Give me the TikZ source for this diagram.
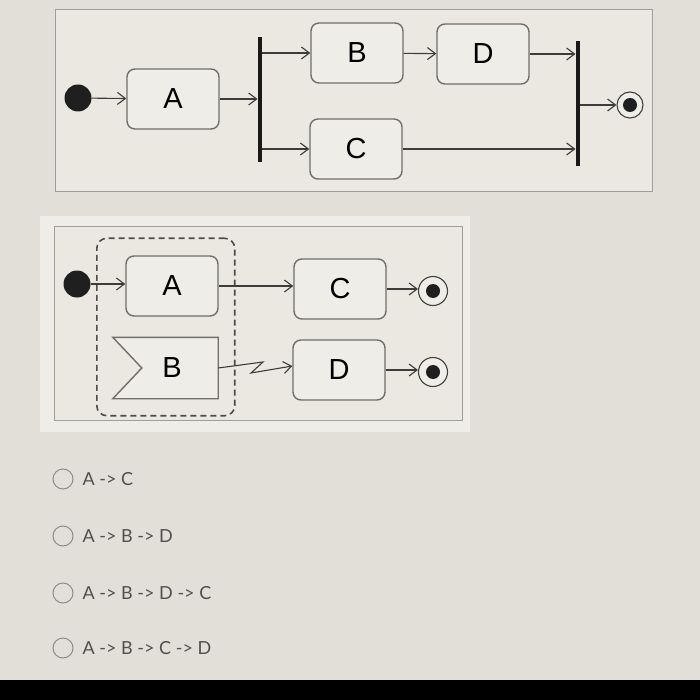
\documentclass[tikz,border=0pt]{standalone}
\usepackage{fontspec}
\setmainfont{Liberation Sans}
\newfontfamily\optfont{Lato}
\usepackage{tikz}
\usetikzlibrary{arrows.meta,positioning,calc,fit,backgrounds}
\definecolor{screenbg}{RGB}{226,223,217}
\definecolor{panelbg}{RGB}{235,232,226}
\definecolor{panelline}{RGB}{160,158,154}
\definecolor{boxbg}{RGB}{239,237,232}
\definecolor{boxline}{RGB}{112,110,106}
\definecolor{flowline}{RGB}{60,60,60}
\definecolor{opttext}{RGB}{80,80,80}

\begin{document}
\begin{tikzpicture}[x=1pt, y=-1pt,
    act/.style={rectangle, rounded corners=8pt, draw=boxline, line width=1.4pt, fill=boxbg, minimum width=92pt, minimum height=60pt, inner sep=0pt, font=\fontsize{29}{31}\selectfont},
    bar/.style={rectangle, fill=black!90, minimum width=4.5pt, minimum height=125pt, inner sep=0pt},
    initial/.style={circle, fill=black!88, minimum size=27pt, inner sep=0pt},
    final/.style={circle, draw=black!75, line width=1.1pt, fill=boxbg, minimum size=26pt, inner sep=0pt,
        path picture={\fill[black!88] (path picture bounding box.center) circle (7pt);}},
    flow/.style={draw=flowline, line width=1.1pt, -{Straight Barb[length=8pt,width=12pt]}},
    panel/.style={draw=panelline, line width=1pt, fill=panelbg},
    radio/.style={circle, draw=black!45, line width=1pt, minimum size=20pt, inner sep=0pt},
    opt/.style={anchor=west, text=opttext, font=\optfont\fontsize{18}{20}\selectfont, inner sep=0pt}
]
    \fill[screenbg] (0,0) rectangle (700,700);
    \useasboundingbox (0,0) rectangle (700,700);
    \fill[black] (0,680) rectangle (700,700);

    % first diagram: fork and join
    \draw[panel] (55,10) rectangle (652,192);
    \node[initial] (start1) at (78,98) {};
    \node[act] (a1) at (173,99) {A};
    \node[bar] (fork) at (260,100) {};
    \node[act] (b1) at (357,53) {B};
    \node[act] (d1) at (483,54) {D};
    \node[act] (c1) at (356,149) {C};
    \node[bar] (join) at (578,104) {};
    \node[final] (end1) at (630,105) {};

    \draw[flow] (start1) -- (a1);
    \draw[flow] (a1.east) -- (a1.east -| fork.west);
    \draw[flow] (fork.east |- b1) -- (b1);
    \draw[flow] (b1) -- (d1);
    \draw[flow] (fork.east |- c1) -- (c1);
    \draw[flow] (d1.east) -- (d1.east -| join.west);
    \draw[flow] (c1.east) -- (c1.east -| join.west);
    \draw[flow] (join.east |- end1) -- (end1);

    % second diagram: interruptible region
    \fill[panelbg!80!white] (40,216) rectangle (470,432);
    \draw[panel] (54,227) rectangle (462,420);
    \node[initial] (start2) at (77,284) {};
    \node[act] (a2) at (172,286) {A};
    \node[minimum width=105pt, minimum height=61pt, inner sep=0pt] (b2) at (165.5,368) {};
    \filldraw[draw=boxline, line width=1.4pt, fill=boxbg]
        (b2.north west) -- (b2.north east) -- (b2.south east) -- (b2.south west) -- ([xshift=29pt]b2.west) -- cycle;
    \node[font=\fontsize{29}{31}\selectfont] at (172,368) {B};
    \node[draw=black!70, line width=1.6pt, dash pattern=on 6pt off 4pt, rounded corners=10pt,
        fit=(a2)(b2), inner xsep=16pt, inner ysep=17pt] (grp) {};
    \node[act] (c2) at (340,289) {C};
    \node[act] (d2) at (339,370) {D};
    \node[final, minimum size=29pt] (end2a) at (433,291) {};
    \node[final, minimum size=29pt] (end2b) at (433,372) {};
    \coordinate (zz1) at (263,362);
    \coordinate (zz2) at (251,373);

    \draw[flow] (start2.east) -- (start2.east -| a2.west);
    \draw[flow] (a2.east) -- (a2.east -| c2.west);
    \draw[flow] (c2.east) -- (c2.east -| end2a.west);
    \draw[flow] (b2.east) -- (zz1) -- (zz2) -- ($(d2.west)+(0,-4)$);
    \draw[flow] (d2.east) -- (d2.east -| end2b.west);

    % answer options
    \foreach \i/\lbl/\yy in {1/{A -> C}/479, 2/{A -> B -> D}/536, 3/{A -> B -> D -> C}/593, 4/{A -> B -> C -> D}/648} {
        \node[radio] (radio\i) at (63,\yy) {};
        \node[opt, right=9pt of radio\i] (opt\i) {\lbl};
    }
\end{tikzpicture}
\end{document}
